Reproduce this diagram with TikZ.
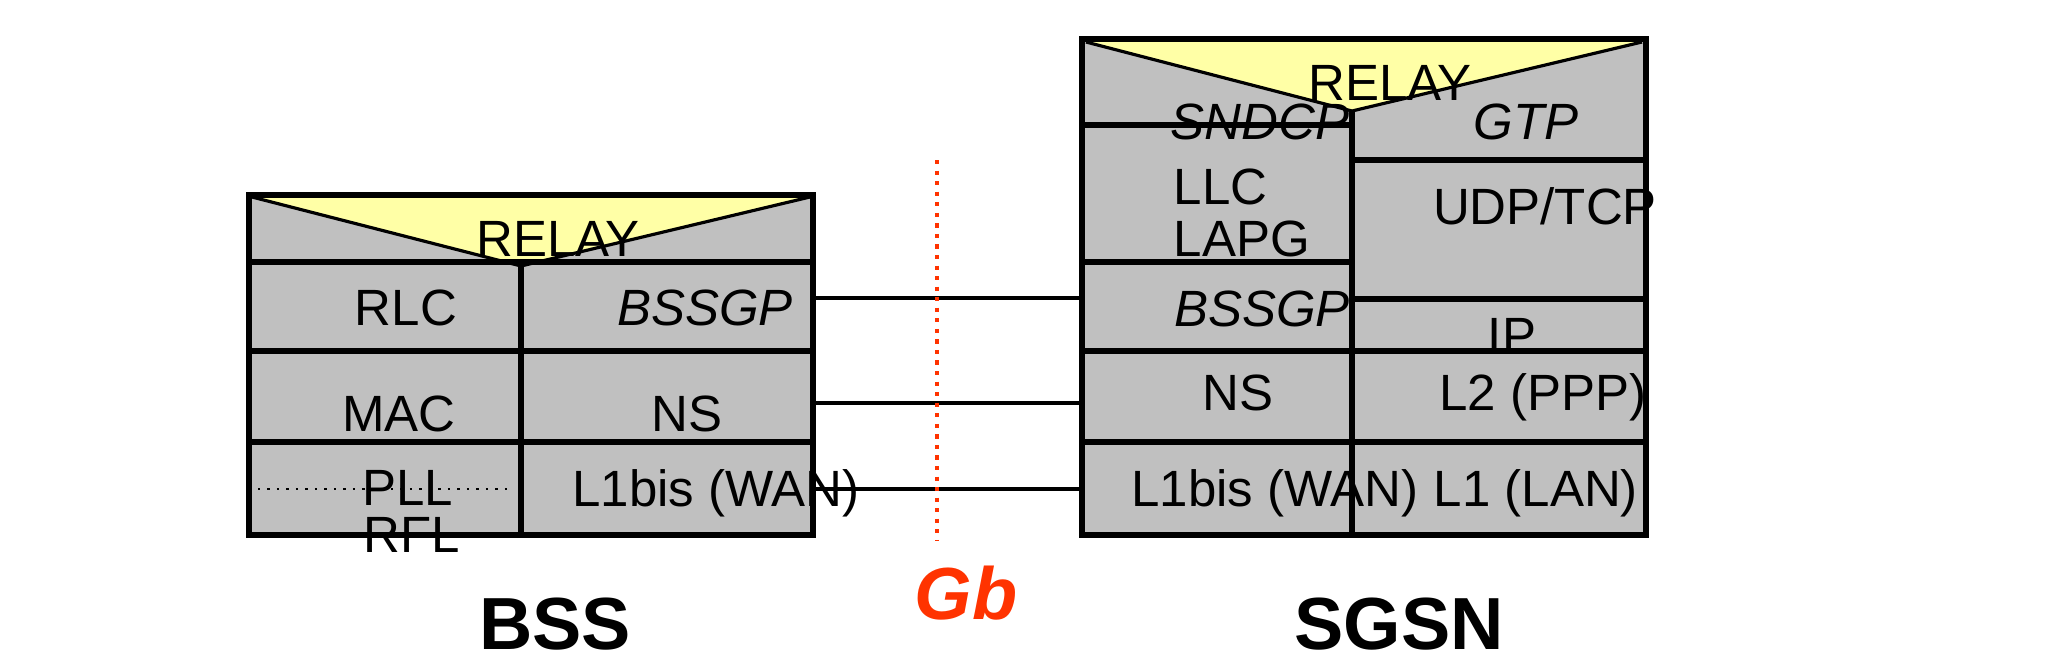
\documentclass[tikz,border=0pt]{standalone}
\usepackage{fontspec}
\setmainfont{Liberation Sans}
\definecolor{stackgray}{HTML}{C0C0C0}
\definecolor{relayyellow}{HTML}{FFFFA6}
\definecolor{gbred}{HTML}{FF3300}
\begin{document}
\begin{tikzpicture}[x=0.01cm,y=-0.01cm,
  border/.style={line width=1.6pt, line join=miter},
  sep/.style={line width=1.6pt},
  triedge/.style={line width=0.9pt},
  wire/.style={line width=1pt},
  lbl/.style={font=\fontsize{14.5}{16}\selectfont, anchor=base, inner sep=0pt},
  ilbl/.style={lbl, font=\fontsize{14.5}{16}\selectfont\itshape},
  title/.style={font=\fontsize{21}{24}\selectfont\bfseries, anchor=base, inner sep=0pt}]
\useasboundingbox (0,0) rectangle (2056,666);
% ---------- fills ----------
\fill[stackgray] (249,195) rectangle (813,535);
\fill[relayyellow] (252,197) -- (810,197) -- (521,266) -- cycle;
\fill[stackgray] (1082,39) rectangle (1646,535);
\fill[relayyellow] (1086,42) -- (1642,42) -- (1352,111) -- cycle;
% ---------- BSS labels ----------
\node[lbl] (brelay) at (558,256) {RELAY};
\node[lbl] (rlc) at (406,325) {RLC};
\node[ilbl] (bbssgp) at (705,325) {BSSGP};
\node[lbl] (mac) at (399,431) {MAC};
\node[lbl] (bns) at (687,431) {NS};
\node[lbl] (pll) at (408,505) {PLL};
\node[lbl] (rfl) at (412,552) {RFL};
\node[lbl] (bl1) at (716,506) {L1bis (WAN)};
% ---------- SGSN labels ----------
\node[lbl] (srelay) at (1390,100) {RELAY};
\node[ilbl] (sndcp) at (1260,139) {SNDCP};
\node[ilbl] (gtp) at (1526,139) {GTP};
\node[lbl, anchor=base west] (llc) at (1173,204) {LLC};
\node[lbl, anchor=base west] (lapg) at (1173,256) {LAPG};
\node[lbl] (udp) at (1545,224) {UDP/TCP};
\node[ilbl] (sbssgp) at (1262,326) {BSSGP};
\node[lbl] (ip) at (1512,353) {IP};
\node[lbl] (sns) at (1238,410) {NS};
\node[lbl] (l2) at (1543,410) {L2 (PPP)};
\node[lbl] (sl1) at (1275,506) {L1bis (WAN)};
\node[lbl] (l1lan) at (1536,506) {L1 (LAN)};
% ---------- BSS block lines ----------
\draw[triedge] (252,197) -- (521,266) -- (810,197);
\draw[sep] (249,262) -- (813,262);
\draw[sep] (249,351) -- (813,351);
\draw[sep] (249,442) -- (813,442);
\draw[sep] (521,262) -- (521,535);
\draw[line width=0.7pt, dotted] (258,489) -- (511,489);
\draw[border] (249,195) rectangle (813,535);
% ---------- SGSN block lines ----------
\draw[triedge] (1086,42) -- (1352,111) -- (1642,42);
\draw[sep] (1082,125) -- (1352,125);
\draw[sep] (1082,262) -- (1352,262);
\draw[sep] (1352,160) -- (1646,160);
\draw[sep] (1352,299) -- (1646,299);
\draw[sep] (1082,351) -- (1646,351);
\draw[sep] (1082,442) -- (1646,442);
\draw[sep] (1352,111) -- (1352,535);
\draw[border] (1082,39) rectangle (1646,535);
% ---------- connectors ----------
\coordinate (b1) at (813,298);  \coordinate (s1) at (1082,298);
\coordinate (b2) at (813,403);  \coordinate (s2) at (1082,403);
\coordinate (b3) at (813,489);  \coordinate (s3) at (1082,489);
\draw[wire] (b1) -- (s1);
\draw[wire] (b2) -- (s2);
\draw[wire] (b3) -- (s3);
\coordinate (gbtop) at (937,160); \coordinate (gbbot) at (937,540);
\draw[gbred, line width=0.9pt, dash pattern=on 1.2pt off 1.8pt] (gbtop) -- (gbbot);
% ---------- titles ----------
\node[title, text=gbred, font=\fontsize{21}{24}\selectfont\bfseries\itshape] (gb) at (966,619) {Gb};
\node[title] (bss) at (555,649) {BSS};
\node[title] (sgsn) at (1399,649) {SGSN};
\end{tikzpicture}
\end{document}
